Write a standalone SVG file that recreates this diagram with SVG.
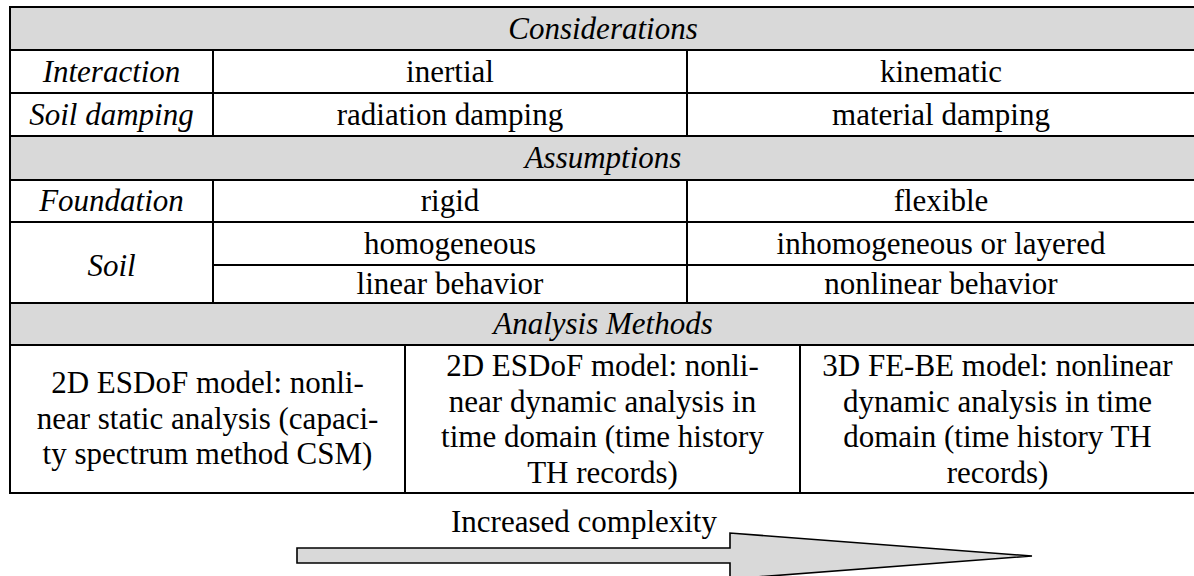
<svg xmlns="http://www.w3.org/2000/svg" width="1194" height="576" viewBox="0 0 1194 576">
  <style>
    text { font-family: 'Liberation Serif', 'Times New Roman', Times, serif; font-size: 31px; fill: #000; text-anchor: middle; }
    .i { font-style: italic; }
    .band { fill: #d9d9d9; }
    .ln { stroke: #000; stroke-width: 2; fill: none; }
    .arrow { fill: #d9d9d9; stroke: #000; stroke-width: 1.6; stroke-linejoin: miter; }
  </style>
  <rect width="1194" height="576" fill="#fff"/>

  <!-- shaded section header bands -->
  <g id="bands">
    <rect class="band" x="10" y="7" width="1186" height="43"/>
    <rect class="band" x="10" y="136" width="1186" height="44"/>
    <rect class="band" x="10" y="303" width="1186" height="42"/>
  </g>

  <!-- table ruling -->
  <g id="grid" class="ln">
    <rect x="10" y="7" width="1186" height="486"/>
    <path d="M10,50 H1196 M10,93 H1196 M10,136 H1196 M10,180 H1196 M10,222 H1196 M213,265 H1196 M10,303 H1196 M10,345 H1196"/>
    <path d="M213,50 V136 M213,180 V303 M687,50 V136 M687,180 V303"/>
    <path d="M405,345 V493 M800,345 V493"/>
  </g>

  <g font-family="Liberation Serif, Times New Roman, serif">
    <g id="considerations">
      <text class="i" x="603" y="39">Considerations</text>
    </g>
    <g id="interaction">
      <text class="i" x="111.5" y="82">Interaction</text>
      <text x="450" y="82">inertial</text>
      <text x="941" y="82">kinematic</text>
    </g>
    <g id="soil-damping">
      <text class="i" x="111.5" y="125">Soil damping</text>
      <text x="450" y="125">radiation damping</text>
      <text x="941" y="125">material damping</text>
    </g>
    <g id="assumptions">
      <text class="i" x="603" y="168">Assumptions</text>
    </g>
    <g id="foundation">
      <text class="i" x="111.5" y="211">Foundation</text>
      <text x="450" y="211">rigid</text>
      <text x="941" y="211">flexible</text>
    </g>
    <g id="soil">
      <text class="i" x="111.5" y="276">Soil</text>
      <text x="450" y="254">homogeneous</text>
      <text x="941" y="254">inhomogeneous or layered</text>
      <text x="450" y="294">linear behavior</text>
      <text x="941" y="294">nonlinear behavior</text>
    </g>
    <g id="analysis-methods">
      <text class="i" x="603" y="334">Analysis Methods</text>
    </g>
    <g id="method-csm">
      <text x="207.5" y="393">2D ESDoF model: nonli-</text>
      <text x="207.5" y="428.6">near static analysis (capaci-</text>
      <text x="207.5" y="464.2">ty spectrum method CSM)</text>
    </g>
    <g id="method-2d-th">
      <text x="602.5" y="376">2D ESDoF model: nonli-</text>
      <text x="602.5" y="411.6">near dynamic analysis in</text>
      <text x="602.5" y="447.2">time domain (time history</text>
      <text x="602.5" y="482.8">TH records)</text>
    </g>
    <g id="method-3d-th">
      <text x="997.5" y="376">3D FE-BE model: nonlinear</text>
      <text x="997.5" y="411.6">dynamic analysis in time</text>
      <text x="997.5" y="447.2">domain (time history TH</text>
      <text x="997.5" y="482.8">records)</text>
    </g>

    <!-- complexity arrow -->
    <g id="arrow">
      <path class="arrow" d="M297,548 H730 V533 L1032,556 L730,579 V563 H297 Z"/>
      <text x="584" y="532">Increased complexity</text>
    </g>
  </g>
</svg>
